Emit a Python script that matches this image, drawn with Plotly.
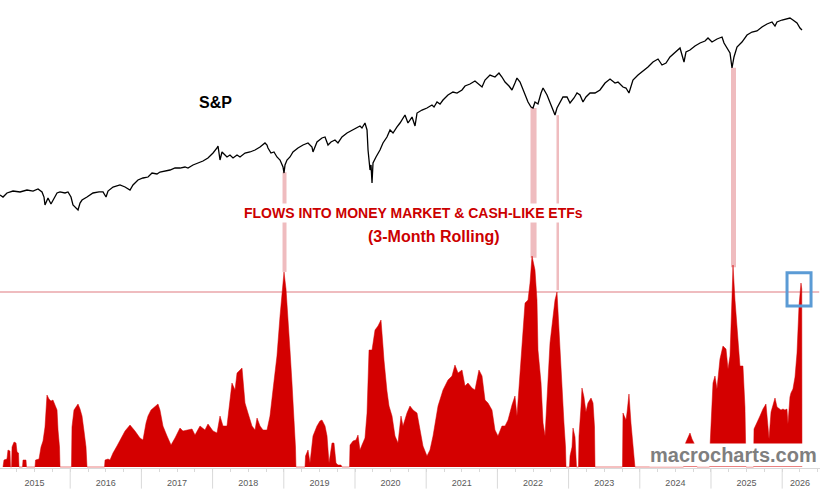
import plotly.graph_objects as go

# S&P 500 level (log scale); time in decimal years
spx_t = [2015.014, 2015.056, 2015.112, 2015.197, 2015.295, 2015.393, 2015.478, 2015.548,
         2015.604, 2015.632, 2015.646, 2015.674, 2015.688, 2015.730, 2015.758, 2015.815,
         2015.857, 2015.927, 2015.969, 2016.011, 2016.039, 2016.081, 2016.110, 2016.138,
         2016.166, 2016.236, 2016.320, 2016.405, 2016.461, 2016.503, 2016.531, 2016.601,
         2016.699, 2016.770, 2016.840, 2016.882, 2016.952, 2017.022, 2017.093, 2017.149,
         2017.219, 2017.261, 2017.332, 2017.402, 2017.472, 2017.542, 2017.612, 2017.654,
         2017.725, 2017.795, 2017.865, 2017.935, 2018.006, 2018.062, 2018.076, 2018.104,
         2018.132, 2018.160, 2018.202, 2018.244, 2018.287, 2018.343, 2018.385, 2018.455,
         2018.525, 2018.596, 2018.666, 2018.736, 2018.764, 2018.778, 2018.820, 2018.862,
         2018.904, 2018.947, 2018.989, 2019.003, 2019.017, 2019.045, 2019.087, 2019.129,
         2019.199, 2019.270, 2019.340, 2019.396, 2019.410, 2019.466, 2019.536, 2019.579,
         2019.621, 2019.663, 2019.719, 2019.761, 2019.817, 2019.888, 2019.958, 2020.028,
         2020.070, 2020.098, 2020.140, 2020.169, 2020.183, 2020.211, 2020.225, 2020.239,
         2020.253, 2020.295, 2020.351, 2020.393, 2020.449, 2020.492, 2020.534, 2020.590,
         2020.632, 2020.702, 2020.744, 2020.801, 2020.843, 2020.871, 2020.941, 2021.011,
         2021.081, 2021.110, 2021.152, 2021.194, 2021.236, 2021.306, 2021.376, 2021.433,
         2021.503, 2021.545, 2021.615, 2021.685, 2021.741, 2021.784, 2021.826, 2021.896,
         2021.966, 2022.022, 2022.064, 2022.107, 2022.163, 2022.205, 2022.247, 2022.275,
         2022.318, 2022.360, 2022.402, 2022.430, 2022.472, 2022.500, 2022.528, 2022.570,
         2022.613, 2022.641, 2022.697, 2022.739, 2022.781, 2022.809, 2022.837, 2022.879,
         2022.921, 2022.978, 2023.020, 2023.076, 2023.118, 2023.160, 2023.202, 2023.244,
         2023.301, 2023.371, 2023.441, 2023.512, 2023.582, 2023.652, 2023.694, 2023.764,
         2023.806, 2023.848, 2023.876, 2023.904, 2023.975, 2024.045, 2024.115, 2024.185,
         2024.256, 2024.312, 2024.368, 2024.424, 2024.494, 2024.565, 2024.621, 2024.649,
         2024.705, 2024.775, 2024.846, 2024.916, 2024.958, 2025.014, 2025.085, 2025.155,
         2025.183, 2025.225, 2025.267, 2025.295, 2025.309, 2025.323, 2025.365, 2025.435,
         2025.506, 2025.576, 2025.646, 2025.716, 2025.787, 2025.857, 2025.899, 2025.927,
         2025.997, 2026.067, 2026.109, 2026.151, 2026.208, 2026.250, 2026.278]
spx_v = [2058, 2029, 2087, 2116, 2102, 2131, 2116, 2146,
         2102, 2029, 1919, 1987, 2015, 1933, 1987, 2087,
         2102, 2087, 2102, 2029, 1919, 1880, 1854, 1946,
         1987, 2029, 2087, 2102, 2102, 2029, 2116, 2176,
         2207, 2176, 2131, 2207, 2285, 2317, 2333, 2399,
         2383, 2416, 2433, 2450, 2484, 2484, 2502, 2484,
         2537, 2573, 2609, 2664, 2758, 2856, 2896, 2627,
         2778, 2739, 2683, 2720, 2664, 2720, 2683, 2758,
         2778, 2817, 2876, 2958, 2917, 2856, 2758, 2778,
         2683, 2627, 2502, 2399, 2537, 2627, 2683, 2778,
         2856, 2917, 2958, 2876, 2778, 2978, 3063, 3084,
         2917, 2978, 3020, 2958, 3084, 3171, 3239, 3308,
         3330, 3284, 3400, 3239, 2817, 2450, 2537, 2238,
         2573, 2683, 2817, 2958, 3084, 3239, 3171, 3308,
         3400, 3595, 3400, 3545, 3330, 3645, 3722, 3775,
         3855, 3801, 3936, 3881, 3991, 4133, 4220, 4191,
         4280, 4401, 4463, 4557, 4463, 4370, 4589, 4751,
         4686, 4818, 4686, 4525, 4401, 4280, 4494, 4653,
         4525, 4280, 4076, 3936, 3801, 3775, 3936, 3881,
         4191, 4340, 4133, 3936, 3722, 3595, 3775, 3936,
         4076, 4076, 3909, 4048, 4191, 4133, 3936, 4076,
         4191, 4191, 4280, 4494, 4621, 4494, 4525, 4370,
         4340, 4191, 4432, 4589, 4751, 4886, 5024, 5203,
         5313, 5095, 5167, 5388, 5540, 5736, 5203, 5579,
         5657, 5817, 5940, 6023, 6151, 5981, 6108, 6194,
         5940, 5736, 5540, 4990, 5276, 5388, 5777, 5981,
         6281, 6413, 6458, 6640, 6781, 6876, 6687, 6876,
         6973, 7021, 7070, 6973, 6828, 6594, 6503]

# Flows into money market & cash-like ETFs, 3-month rolling (relative scale)
flow_t = [2015.056, 2015.070, 2015.112, 2015.126, 2015.154, 2015.162, 2015.176, 2015.183,
          2015.211, 2015.239, 2015.253, 2015.274, 2015.281,
          2015.330, 2015.337, 2015.379, 2015.386,
          2015.506, 2015.513, 2015.562, 2015.590, 2015.618, 2015.646, 2015.674, 2015.702,
          2015.730, 2015.758, 2015.787, 2015.815, 2015.829, 2015.850, 2015.857,
          2016.018, 2016.025, 2016.053, 2016.081, 2016.110, 2016.138, 2016.166, 2016.194,
          2016.222, 2016.236,
          2016.482, 2016.489, 2016.531, 2016.559, 2016.601, 2016.657, 2016.699, 2016.770,
          2016.840, 2016.868, 2016.910, 2016.980, 2017.022, 2017.065, 2017.093, 2017.135,
          2017.191, 2017.233, 2017.261, 2017.303, 2017.360, 2017.416, 2017.472, 2017.542,
          2017.584, 2017.654, 2017.711, 2017.753, 2017.823, 2017.893, 2017.935, 2018.006,
          2018.062, 2018.104, 2018.146, 2018.202, 2018.244, 2018.272, 2018.315, 2018.343,
          2018.413, 2018.455, 2018.497, 2018.553, 2018.596, 2018.624, 2018.666, 2018.708,
          2018.764, 2018.806, 2018.848, 2018.904, 2018.947, 2018.989, 2019.003, 2019.031,
          2019.059, 2019.087, 2019.115, 2019.143, 2019.164, 2019.171,
          2019.298, 2019.305, 2019.340, 2019.368, 2019.410, 2019.466, 2019.508, 2019.536,
          2019.579, 2019.607, 2019.635, 2019.677, 2019.705, 2019.733, 2019.761, 2019.803,
          2019.817,
          2019.923, 2019.930, 2019.972, 2020.014, 2020.042, 2020.070, 2020.098, 2020.140,
          2020.169, 2020.197, 2020.239, 2020.281, 2020.323, 2020.365, 2020.393, 2020.407,
          2020.449, 2020.478, 2020.520, 2020.562, 2020.604, 2020.646, 2020.674, 2020.730,
          2020.772, 2020.815, 2020.871, 2020.913, 2020.955, 2021.011, 2021.053, 2021.096,
          2021.166, 2021.236, 2021.306, 2021.362, 2021.404, 2021.447, 2021.503, 2021.545,
          2021.587, 2021.643, 2021.685, 2021.741, 2021.784, 2021.826, 2021.868, 2021.924,
          2021.966, 2022.008, 2022.064, 2022.107, 2022.149, 2022.205, 2022.247, 2022.275,
          2022.303, 2022.346, 2022.388, 2022.430, 2022.458, 2022.486, 2022.528, 2022.556,
          2022.570, 2022.613, 2022.641, 2022.669, 2022.697, 2022.739, 2022.781, 2022.809,
          2022.837, 2022.865, 2022.907, 2022.935, 2022.957, 2022.964,
          2023.013, 2023.020, 2023.048, 2023.062, 2023.090, 2023.111, 2023.139, 2023.146,
          2023.174, 2023.188, 2023.216, 2023.244, 2023.272, 2023.315, 2023.343, 2023.364,
          2023.371,
          2023.757, 2023.764, 2023.806, 2023.820, 2023.848, 2023.876, 2023.904, 2023.925,
          2023.932,
          2024.614, 2024.621, 2024.649, 2024.677, 2024.705, 2024.733, 2024.761, 2024.789,
          2024.803,
          2024.979, 2024.986, 2025.028, 2025.056, 2025.084, 2025.126, 2025.168, 2025.211,
          2025.239, 2025.267, 2025.295, 2025.309, 2025.337, 2025.365, 2025.407, 2025.449,
          2025.477, 2025.492,
          2025.597, 2025.604, 2025.646, 2025.688, 2025.730, 2025.772, 2025.801, 2025.815,
          2025.843, 2025.871, 2025.899, 2025.927, 2025.955, 2025.983, 2026.011, 2026.039,
          2026.067, 2026.081, 2026.109, 2026.123, 2026.151, 2026.180, 2026.208, 2026.236,
          2026.264, 2026.275, 2026.278]
flow_v = [0, 7, 8, 17, 16, 0, 0, 20,
          25, 24, 15, 14, 0,
          0, 7, 7, 0,
          0, 7, 8, 20, 26, 40, 72, 68,
          66, 67, 62, 57, 37, 20, 0,
          0, 40, 57, 60, 63, 58, 51, 36,
          20, 0,
          0, 7, 8, 7, 14, 21, 27, 36,
          42, 40, 36, 29, 27, 44, 51, 57,
          61, 63, 57, 41, 31, 22, 29, 39,
          36, 37, 38, 32, 41, 37, 43, 36,
          34, 51, 41, 41, 67, 84, 77, 94,
          99, 64, 54, 41, 37, 49, 41, 37,
          37, 51, 77, 111, 151, 191, 195, 178,
          151, 117, 84, 51, 20, 0,
          0, 11, 17, 4, 31, 41, 46, 47,
          41, 31, 4, 24, 24, 4, 2, 2,
          0,
          0, 22, 26, 27, 32, 17, 22, 29,
          54, 117, 117, 137, 141, 147, 121, 107,
          76, 61, 51, 31, 24, 51, 41, 54,
          61, 57, 54, 37, 21, 11, 17, 31,
          61, 77, 87, 91, 102, 94, 97, 81,
          84, 79, 77, 97, 91, 67, 64, 57,
          37, 31, 41, 41, 47, 62, 71, 51,
          77, 117, 164, 167, 184, 211, 197, 167,
          117, 84, 44, 31, 71, 124, 150, 167,
          175, 134, 84, 44, 20, 0,
          0, 11, 20, 39, 30, 0, 0, 31,
          60, 79, 70, 55, 64, 69, 64, 40,
          0,
          0, 54, 47, 54, 73, 44, 17, 5,
          0,
          0, 20, 25, 30, 34, 28, 24, 18,
          0,
          0, 20, 84, 91, 78, 108, 121, 118,
          98, 111, 170, 202, 167, 144, 101, 101,
          60, 0,
          0, 38, 44, 51, 58, 63, 40, 28,
          55, 62, 69, 60, 58, 57, 58, 57,
          58, 43, 70, 74, 78, 90, 114, 161,
          184, 178, 0]

years = list(range(2015, 2027))
year_labels = [str(y) for y in years]
label_pos = [y + 0.5 for y in years[:-1]] + [2026.25]

# highlighted spikes (start, end) and how far the band reaches (paper y)
bands = [(2018.982, 2019.038, 0.419, 0.632),
         (2022.465, 2022.550, 0.449, 0.769),
         (2022.830, 2022.865, 0.380, 0.754),
         (2025.281, 2025.351, 0.429, 0.855)]
alert_level = 175

RED = "#d40000"
PINK = "#efbcbf"
FONT = "Arial, Liberation Sans, sans-serif"

fig = go.Figure()
fig.add_trace(go.Scatter(
    x=flow_t, y=flow_v, mode="lines", fill="tozeroy",
    line=dict(color=RED, width=0.5), fillcolor=RED,
    hoverinfo="skip", yaxis="y"))
fig.add_trace(go.Scatter(
    x=spx_t, y=spx_v, mode="lines",
    line=dict(color="black", width=1.3),
    hoverinfo="skip", yaxis="y2"))

shapes = []
for x0, x1, y0, y1 in bands:
    shapes.append(dict(type="rect", xref="x", yref="paper", x0=x0, x1=x1,
                       y0=y0, y1=y1, fillcolor=PINK, line=dict(width=0),
                       layer="below"))
shapes.append(dict(type="line", xref="paper", yref="y", x0=0, x1=0.999,
                   y0=alert_level, y1=alert_level,
                   line=dict(color=PINK, width=2), layer="below"))
shapes.append(dict(type="rect", xref="x", yref="paper", x0=2026.068, x1=2026.405,
                   y0=0.346, y1=0.417, line=dict(color="#5b9bd5", width=3)))
for y in years[1:]:
    shapes.append(dict(type="line", xref="x", yref="paper", x0=y, x1=y,
                       y0=0, y1=-0.044, line=dict(color="#d9d9d9", width=1)))

quarters = [y + q * 0.25 for y in years for q in range(4)]

fig.update_layout(
    width=832, height=499,
    margin=dict(l=0, r=12, t=0, b=31),
    paper_bgcolor="white", plot_bgcolor="white",
    showlegend=False,
    xaxis=dict(range=[2015.014, 2026.531], showgrid=False, zeroline=False,
               showline=True, linecolor="#d9d9d9", linewidth=1,
               tickmode="array", tickvals=label_pos, ticktext=year_labels,
               ticks="outside", ticklen=6, tickcolor="rgba(0,0,0,0)",
               tickfont=dict(family=FONT, size=9, color="#595959"),
               minor=dict(tickmode="array", tickvals=quarters, ticks="outside",
                          ticklen=3, tickcolor="#d9d9d9", showgrid=False)),
    yaxis=dict(range=[-1, 467], visible=False, fixedrange=True),
    yaxis2=dict(type="log", range=[2.48665, 3.90402], overlaying="y",
                visible=False),
    shapes=shapes,
    annotations=[
        dict(text="<b>S&amp;P</b>", x=0.2634, y=0.782, xref="paper", yref="paper",
             xanchor="center", yanchor="middle", showarrow=False,
             font=dict(family=FONT, size=16, color="black")),
        dict(text="<b>FLOWS INTO MONEY MARKET &amp; CASH-LIKE ETFs</b>",
             x=0.504, y=0.545, xref="paper", yref="paper",
             xanchor="center", yanchor="middle", showarrow=False,
             bgcolor="white", borderpad=1,
             font=dict(family=FONT, size=14, color="#cc0000")),
        dict(text="<b>(3-Month Rolling)</b>", x=0.529, y=0.4957,
             xref="paper", yref="paper", xanchor="center", yanchor="middle",
             showarrow=False,
             font=dict(family=FONT, size=16, color="#cc0000")),
        dict(text="<b>macrocharts.com</b>", x=0.894, y=0.002, xref="paper",
             yref="paper", xanchor="center", yanchor="bottom", showarrow=False,
             bgcolor="white", borderpad=0,
             font=dict(family=FONT, size=20, color="#7f7f7f")),
    ],
)

fig.write_html("out.html", config={"displayModeBar": False},
               post_script="document.body.style.margin='0';")
